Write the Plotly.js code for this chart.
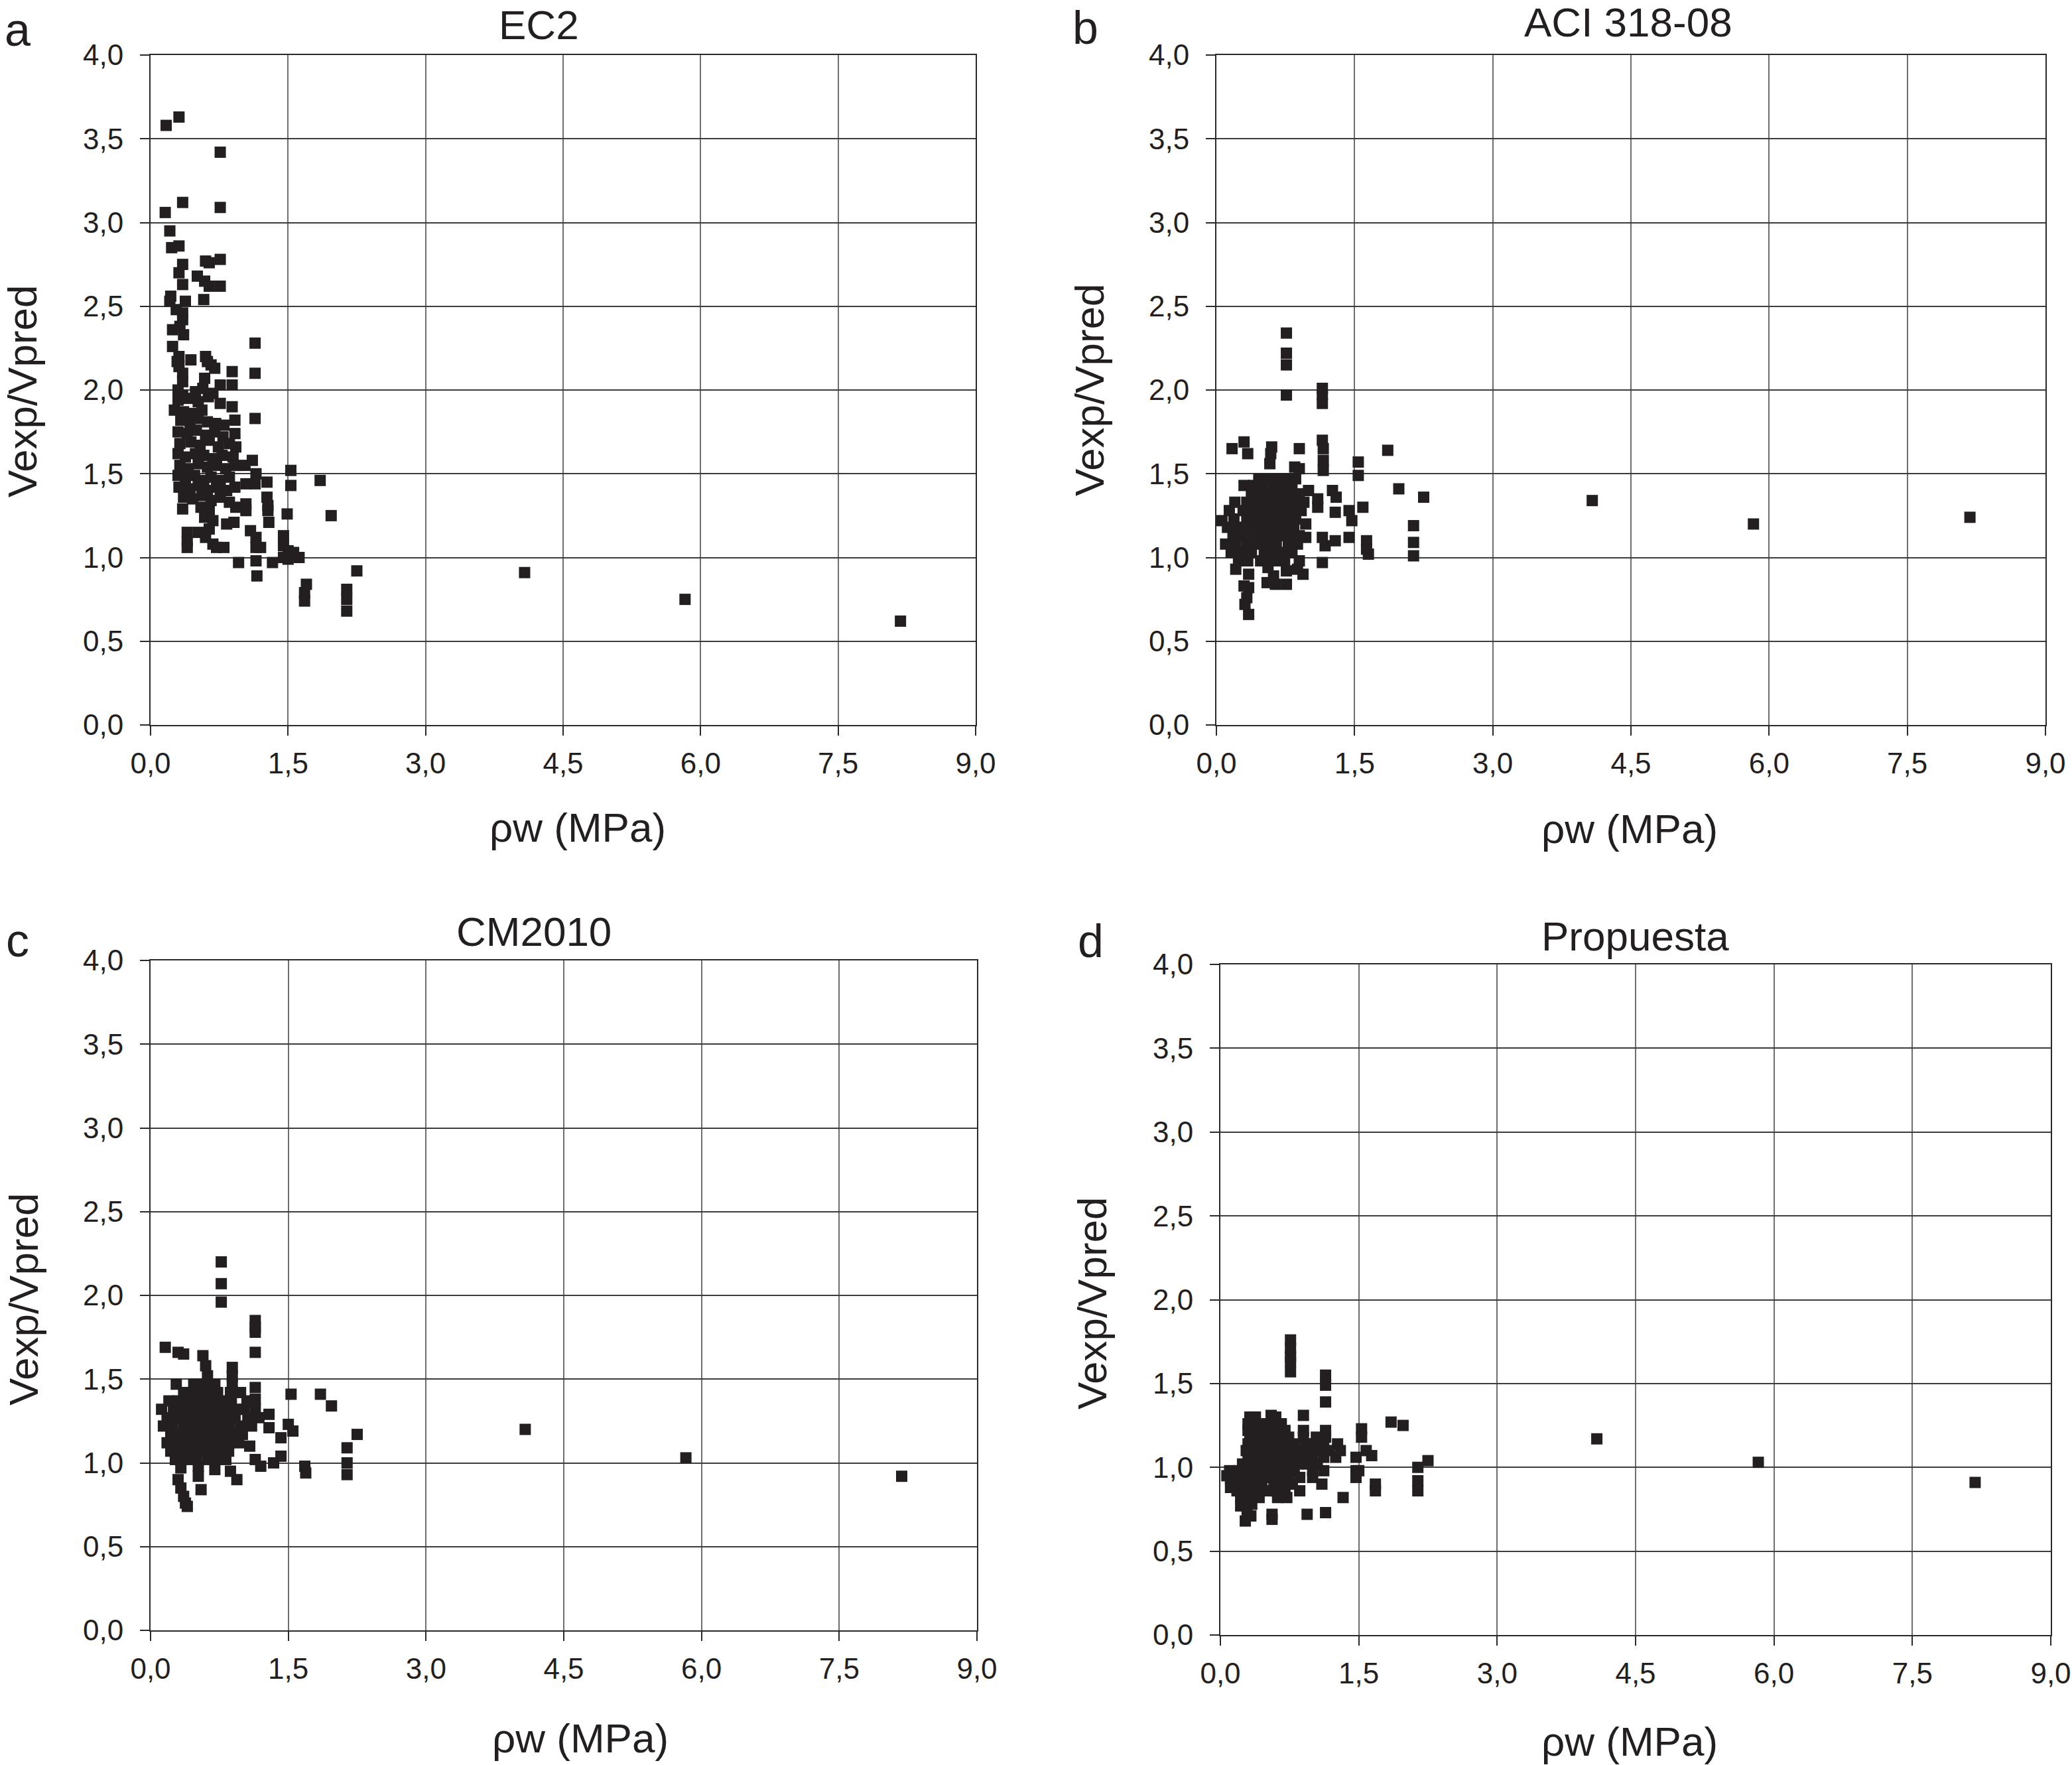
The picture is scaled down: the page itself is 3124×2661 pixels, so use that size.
<!DOCTYPE html>
<html>
<head>
<meta charset="utf-8">
<script src="https://cdn.plot.ly/plotly-3.0.1.min.js"></script>
<style>html,body{margin:0;padding:0;background:#fff}</style>
</head>
<body>
<div id="chart" style="width:3124px;height:2661px"></div>
<script>
// ρw (MPa) vs Vexp/Vpred, one [x, y] pair per specimen
const ec2Points = [
  [0.17,3.58],[0.31,3.63],[0.76,3.42],[0.35,3.12],[0.16,3.06],[0.76,3.09],[0.21,2.95],[0.23,2.85],
  [0.31,2.86],[0.35,2.75],[0.31,2.70],[0.35,2.63],[0.60,2.77],[0.64,2.76],[0.76,2.78],[0.51,2.68],
  [0.59,2.65],[0.64,2.62],[0.76,2.62],[0.22,2.56],[0.21,2.53],[0.38,2.53],[0.58,2.54],[0.28,2.48],
  [0.35,2.46],[0.35,2.42],[0.24,2.36],[0.32,2.38],[0.36,2.33],[0.24,2.26],[1.14,2.28],[0.31,2.20],
  [0.29,2.17],[0.44,2.18],[0.31,2.14],[0.35,2.10],[0.60,2.20],[0.62,2.17],[0.66,2.15],[0.70,2.13],
  [0.89,2.11],[1.14,2.10],[0.59,2.07],[0.76,2.03],[0.89,2.03],[0.35,2.05],
  [0.30,2.00],[0.35,1.97],[0.49,1.99],[0.57,2.01],[0.68,1.98],
  [0.30,1.94],[0.42,1.95],[0.52,1.93],[0.63,1.96],[0.76,1.92],[0.89,1.90],
  [0.26,1.88],[0.36,1.87],[0.45,1.86],[0.56,1.88],[1.14,1.83],
  [0.33,1.82],[0.43,1.80],[0.52,1.83],[0.62,1.81],[0.71,1.80],[0.80,1.79],[0.92,1.82],
  [0.30,1.75],[0.40,1.74],[0.50,1.76],[0.60,1.73],[0.70,1.75],[0.79,1.72],[0.92,1.74],
  [0.32,1.68],[0.44,1.69],[0.54,1.67],[0.64,1.70],[0.74,1.66],[0.86,1.68],[0.93,1.66],
  [0.30,1.62],[0.38,1.60],[0.49,1.62],[0.58,1.61],[0.68,1.59],[0.78,1.61],[0.90,1.60],[1.11,1.58],
  [0.32,1.55],[0.41,1.53],[0.52,1.56],[0.62,1.54],[0.72,1.55],[0.82,1.53],[0.92,1.55],[1.03,1.55],
  [1.15,1.50],[1.53,1.52],
  [0.30,1.49],[0.38,1.47],[0.48,1.49],[0.58,1.46],[0.66,1.48],[0.76,1.46],[0.86,1.48],[1.04,1.44],
  [1.14,1.44],[1.27,1.45],[1.53,1.43],[1.85,1.46],
  [0.31,1.42],[0.43,1.41],[0.52,1.43],[0.62,1.40],[0.72,1.42],[0.83,1.40],[0.92,1.42],[1.27,1.36],
  [0.36,1.36],[0.46,1.35],[0.56,1.37],[0.66,1.34],[0.76,1.36],[0.86,1.33],[1.28,1.31],
  [0.35,1.29],[0.55,1.30],[0.64,1.28],[0.93,1.30],[1.04,1.32],[1.04,1.28],[1.28,1.28],[1.49,1.26],
  [1.97,1.25],[0.59,1.24],[0.68,1.22],[0.83,1.20],[0.91,1.21],[1.29,1.21],
  [0.40,1.15],[0.40,1.10],[0.40,1.06],[0.52,1.15],[0.60,1.12],[0.64,1.17],[0.68,1.08],[0.72,1.06],
  [0.80,1.06],[1.09,1.16],[1.15,1.12],[1.15,1.06],[1.20,1.06],[1.45,1.13],[1.45,1.07],[1.50,1.04],
  [1.56,1.03],[1.62,1.00],[1.50,0.99],[1.45,1.00],
  [0.96,0.97],[1.15,0.98],[1.16,0.89],[1.33,0.97],[2.25,0.92],[1.70,0.84],[1.68,0.79],[1.68,0.74],
  [2.14,0.81],[2.14,0.75],[2.14,0.68],[4.08,0.91],[5.83,0.75],[8.18,0.62]
];

const aciPoints = [
  [0.76,2.34],[0.76,2.22],[0.76,2.15],[0.76,1.97],[1.15,2.01],[1.15,1.97],[1.15,1.92],[1.15,1.70],
  [1.16,1.65],[1.16,1.58],[1.16,1.52],[0.17,1.65],[0.30,1.69],[0.34,1.62],[0.60,1.66],[0.59,1.62],
  [0.58,1.56],[0.90,1.65],[0.85,1.54],[0.90,1.53],[1.54,1.57],[1.54,1.49],[1.86,1.64],[1.98,1.41],
  [2.25,1.36],[2.14,1.19],[2.14,1.09],[2.14,1.01],[1.63,1.10],[1.63,1.05],[1.65,1.02],[1.15,0.97],
  [1.44,1.28],[1.47,1.22],[1.59,1.30],[1.44,1.12],[1.29,1.10],[1.15,1.12],[1.18,1.07],[1.26,1.40],
  [1.30,1.36],[1.29,1.27],[1.00,1.40],[1.10,1.35],[1.10,1.30],[0.97,1.20],[0.97,1.12],
  [0.21,0.93],[0.30,0.83],[0.31,0.72],[0.35,0.66],[0.33,0.76],[0.35,0.90],[0.35,0.82],[0.56,0.94],
  [0.62,0.89],[0.55,0.85],[0.64,0.84],[0.76,0.84],[0.76,0.92],[0.88,0.93],[0.94,0.90],[0.90,0.98],
  [0.46,1.47],[0.56,1.47],[0.66,1.47],[0.76,1.47],[0.86,1.47],
  [0.30,1.43],[0.40,1.43],[0.50,1.43],[0.62,1.43],[0.72,1.43],[0.82,1.43],
  [0.38,1.38],[0.47,1.38],[0.57,1.38],[0.68,1.38],[0.79,1.38],[0.90,1.38],
  [0.20,1.33],[0.33,1.33],[0.43,1.33],[0.53,1.33],[0.63,1.33],[0.73,1.33],[0.84,1.33],[0.95,1.33],
  [0.14,1.28],[0.29,1.28],[0.40,1.28],[0.50,1.28],[0.60,1.28],[0.70,1.28],[0.81,1.28],[0.92,1.28],
  [0.06,1.22],[0.19,1.23],[0.33,1.23],[0.45,1.23],[0.55,1.23],[0.66,1.23],[0.76,1.23],[0.86,1.23],
  [0.12,1.18],[0.22,1.18],[0.32,1.18],[0.43,1.18],[0.53,1.18],[0.63,1.18],[0.74,1.18],[0.84,1.18],
  [0.18,1.13],[0.28,1.13],[0.40,1.13],[0.50,1.13],[0.60,1.13],[0.70,1.13],[0.80,1.13],[0.90,1.13],
  [0.10,1.08],[0.21,1.08],[0.33,1.08],[0.45,1.08],[0.57,1.08],[0.65,1.08],[0.78,1.08],[0.88,1.08],
  [0.16,1.03],[0.27,1.03],[0.38,1.03],[0.52,1.03],[0.62,1.03],[0.72,1.03],[0.82,1.03],
  [0.24,0.98],[0.34,0.98],[0.48,0.98],[0.56,0.98],[0.64,0.98],[0.74,0.98],
  [4.08,1.34],[5.83,1.20],[8.18,1.24]
];

const cm2010Points = [
  [0.77,2.20],[0.77,2.07],[0.77,1.96],[1.14,1.85],[1.14,1.81],[1.14,1.78],[1.14,1.66],[0.16,1.69],
  [0.30,1.66],[0.36,1.65],[0.57,1.64],[0.60,1.58],[0.62,1.52],[0.89,1.57],[0.89,1.52],[1.14,1.45],
  [1.14,1.38],[1.14,1.32],[1.53,1.41],[1.85,1.41],[1.97,1.34],[2.25,1.17],[2.14,1.09],[2.14,1.00],
  [2.14,0.93],[1.68,0.98],[1.69,0.94],[1.34,1.00],[1.50,1.23],[1.55,1.19],[1.42,1.15],[1.42,1.04],
  [1.29,1.29],[1.29,1.21],[1.20,0.98],[1.14,1.02],[0.94,0.90],[0.87,0.95],[0.70,0.96],[0.52,0.92],
  [0.52,0.98],[0.55,0.84],[0.33,0.97],[0.30,0.90],[0.33,0.85],[0.36,0.80],[0.38,0.76],[0.40,0.74],
  [0.12,1.32],[1.08,1.10],
  [0.28,1.47],[0.47,1.47],[0.55,1.47],[0.62,1.47],[0.70,1.47],[0.89,1.47],
  [0.36,1.42],[0.44,1.42],[0.53,1.42],[0.62,1.42],[0.73,1.42],[0.87,1.42],[0.98,1.42],
  [0.20,1.37],[0.30,1.37],[0.40,1.37],[0.48,1.37],[0.58,1.37],[0.66,1.37],[0.77,1.37],[0.88,1.37],[1.05,1.37],
  [0.25,1.32],[0.35,1.32],[0.45,1.32],[0.55,1.32],[0.63,1.32],[0.74,1.32],[0.84,1.32],[0.95,1.32],[1.02,1.32],
  [0.18,1.27],[0.30,1.27],[0.42,1.27],[0.52,1.27],[0.62,1.27],[0.72,1.27],[0.80,1.27],[0.92,1.27],[1.06,1.27],[1.18,1.27],
  [0.14,1.22],[0.24,1.22],[0.36,1.22],[0.46,1.22],[0.56,1.22],[0.66,1.22],[0.75,1.22],[0.86,1.22],[0.98,1.22],[1.10,1.22],
  [0.22,1.17],[0.32,1.17],[0.43,1.17],[0.52,1.17],[0.60,1.17],[0.70,1.17],[0.80,1.17],[0.90,1.17],[1.00,1.17],
  [0.18,1.12],[0.28,1.12],[0.38,1.12],[0.48,1.12],[0.58,1.12],[0.68,1.12],[0.76,1.12],[0.86,1.12],[0.96,1.12],
  [0.22,1.07],[0.33,1.07],[0.45,1.07],[0.55,1.07],[0.64,1.07],[0.74,1.07],[0.85,1.07],
  [0.27,1.02],[0.38,1.02],[0.50,1.02],[0.62,1.02],[0.72,1.02],[0.82,1.02],
  [4.08,1.20],[5.83,1.03],[8.18,0.92]
];

const propuestaPoints = [
  [0.76,1.76],[0.76,1.71],[0.76,1.66],[0.76,1.63],[0.76,1.57],[1.14,1.55],[1.14,1.49],[1.14,1.39],
  [1.85,1.27],[1.98,1.25],[0.90,1.31],[1.53,1.23],[1.53,1.18],[1.58,1.10],[1.64,1.07],[1.47,1.06],
  [1.47,0.98],[1.50,0.98],[1.47,0.94],[2.25,1.04],[2.14,1.00],[2.14,0.92],[2.14,0.86],[1.68,0.90],
  [1.68,0.86],[1.33,0.82],[0.94,0.72],[1.14,0.73],[0.29,0.72],[0.27,0.68],[0.33,0.71],[0.56,0.72],
  [0.56,0.69],[0.22,0.77],[0.11,0.93],[0.11,0.88],[0.07,0.95],
  [0.32,1.30],[0.38,1.30],[0.55,1.31],[0.60,1.30],
  [0.30,1.26],[0.42,1.26],[0.52,1.26],[0.62,1.26],[0.66,1.26],
  [0.30,1.22],[0.40,1.22],[0.50,1.22],[0.60,1.22],[0.70,1.22],[0.90,1.22],[1.14,1.22],
  [0.32,1.18],[0.44,1.18],[0.54,1.18],[0.64,1.18],[0.74,1.18],[0.90,1.18],[1.04,1.18],[1.14,1.18],
  [0.30,1.14],[0.40,1.14],[0.50,1.14],[0.60,1.14],[0.70,1.14],[0.80,1.14],[0.92,1.14],[1.02,1.14],[1.12,1.14],[1.27,1.14],
  [0.28,1.10],[0.38,1.10],[0.48,1.10],[0.58,1.10],[0.68,1.10],[0.78,1.10],[0.88,1.10],[0.98,1.10],[1.08,1.10],[1.18,1.10],[1.30,1.10],
  [0.30,1.06],[0.40,1.06],[0.50,1.06],[0.60,1.06],[0.70,1.06],[0.80,1.06],[0.90,1.06],[1.00,1.06],[1.12,1.06],[1.25,1.06],
  [0.24,1.02],[0.34,1.02],[0.44,1.02],[0.54,1.02],[0.64,1.02],[0.74,1.02],[0.84,1.02],[0.95,1.02],[1.05,1.02],
  [0.10,0.98],[0.20,0.98],[0.30,0.98],[0.40,0.98],[0.50,0.98],[0.60,0.98],[0.70,0.98],[0.80,0.98],[1.00,0.98],[1.12,0.98],
  [0.12,0.94],[0.22,0.94],[0.32,0.94],[0.42,0.94],[0.54,0.94],[0.64,0.94],[0.74,0.94],[0.86,0.94],[1.00,0.94],
  [0.15,0.90],[0.25,0.90],[0.35,0.90],[0.45,0.90],[0.58,0.90],[0.68,0.90],[0.78,0.90],[1.10,0.90],
  [0.18,0.86],[0.28,0.86],[0.38,0.86],[0.50,0.86],[0.60,0.86],[0.70,0.86],[0.86,0.86],
  [0.22,0.82],[0.32,0.82],[0.42,0.82],[0.62,0.82],[0.72,0.82],
  [0.24,0.78],[0.34,0.78],
  [4.08,1.17],[5.83,1.03],[8.18,0.91]
];

const panelTitles = ['EC2', 'ACI 318-08', 'CM2010', 'Propuesta'];
const panelLetters = ['a', 'b', 'c', 'd'];
const rhoTicks = [0, 1.5, 3, 4.5, 6, 7.5, 9];
const ratioTicks = [0, 0.5, 1, 1.5, 2, 2.5, 3, 3.5, 4];
const xLabel = 'ρw (MPa)';
const yLabel = 'Vexp/Vpred';

const W = 3124, H = 2661;
const FONT = '"Liberation Sans", Arial, Helvetica, sans-serif';
const INK = '#231f20';

// plot boxes in pixels, measured on the reference
const boxes = [
  { l: 227, r: 1471, t: 83, b: 1093, title: [812, 37], letter: [26, 45], xlab: [871, 1247], ylab: [33, 590] },
  { l: 1834, r: 3084, t: 83, b: 1093, title: [2455, 34], letter: [1636, 42], xlab: [2457, 1250], ylab: [1642, 588] },
  { l: 227, r: 1473, t: 1448, b: 2458, title: [805, 1404], letter: [26, 1418], xlab: [875, 2620], ylab: [35, 1959] },
  { l: 1840, r: 3092, t: 1454, b: 2465, title: [2465, 1411], letter: [1645, 1419], xlab: [2457, 2625], ylab: [1646, 1965] }
];

const px = x => x / W;
const py = y => 1 - y / H;

const allPoints = [ec2Points, aciPoints, cm2010Points, propuestaPoints];
const traces = allPoints.map((pts, i) => ({
  x: pts.map(p => p[0]),
  y: pts.map(p => p[1]),
  xaxis: i === 0 ? 'x' : 'x' + (i + 1),
  yaxis: i === 0 ? 'y' : 'y' + (i + 1),
  type: 'scatter',
  mode: 'markers',
  marker: { symbol: 'square', size: 17, color: INK, line: { width: 0 } },
  hoverinfo: 'none',
  showlegend: false,
}));

const layout = {
  width: W,
  height: H,
  margin: { l: 0, r: 0, t: 0, b: 0 },
  paper_bgcolor: '#fff',
  plot_bgcolor: '#fff',
  separators: ',.',
  font: { family: FONT, color: INK },
  annotations: [],
};

const common = {
  showgrid: true,
  gridwidth: 2,
  showline: true,
  linecolor: '#2a2a2a',
  linewidth: 2,
  mirror: true,
  ticks: 'outside',
  ticklen: 14,
  tickwidth: 2,
  tickcolor: '#2a2a2a',
  tickformat: '.1f',
  tickfont: { family: FONT, size: 44, color: INK },
  zeroline: false,
  fixedrange: true,
  automargin: false,
};

boxes.forEach((bx, i) => {
  const s = i === 0 ? '' : String(i + 1);
  layout['xaxis' + s] = Object.assign({}, common, {
    domain: [px(bx.l), px(bx.r)],
    anchor: 'y' + s,
    range: [0, 9],
    tickmode: 'array',
    tickvals: rhoTicks,
    gridcolor: '#6e6e6e',
    ticklabelstandoff: 4,
  });
  layout['yaxis' + s] = Object.assign({}, common, {
    domain: [py(bx.b), py(bx.t)],
    anchor: 'x' + s,
    range: [0, 4],
    tickmode: 'array',
    tickvals: ratioTicks,
    gridcolor: '#3c3c3c',
    ticklabelstandoff: 16,
  });

  const ann = (pos, text, size, extra) => Object.assign({
    xref: 'paper', yref: 'paper',
    x: px(pos[0]), y: py(pos[1]),
    xanchor: 'center', yanchor: 'middle',
    text, showarrow: false,
    font: { family: FONT, size, color: INK },
  }, extra || {});

  layout.annotations.push(ann(bx.title, panelTitles[i], 62));
  layout.annotations.push(ann(bx.letter, panelLetters[i], 70));
  layout.annotations.push(ann(bx.xlab, xLabel, 62));
  layout.annotations.push(ann(bx.ylab, yLabel, 62, { textangle: -90 }));
});

Plotly.newPlot('chart', traces, layout, { displayModeBar: false, staticPlot: true });
</script>
</body>
</html>
